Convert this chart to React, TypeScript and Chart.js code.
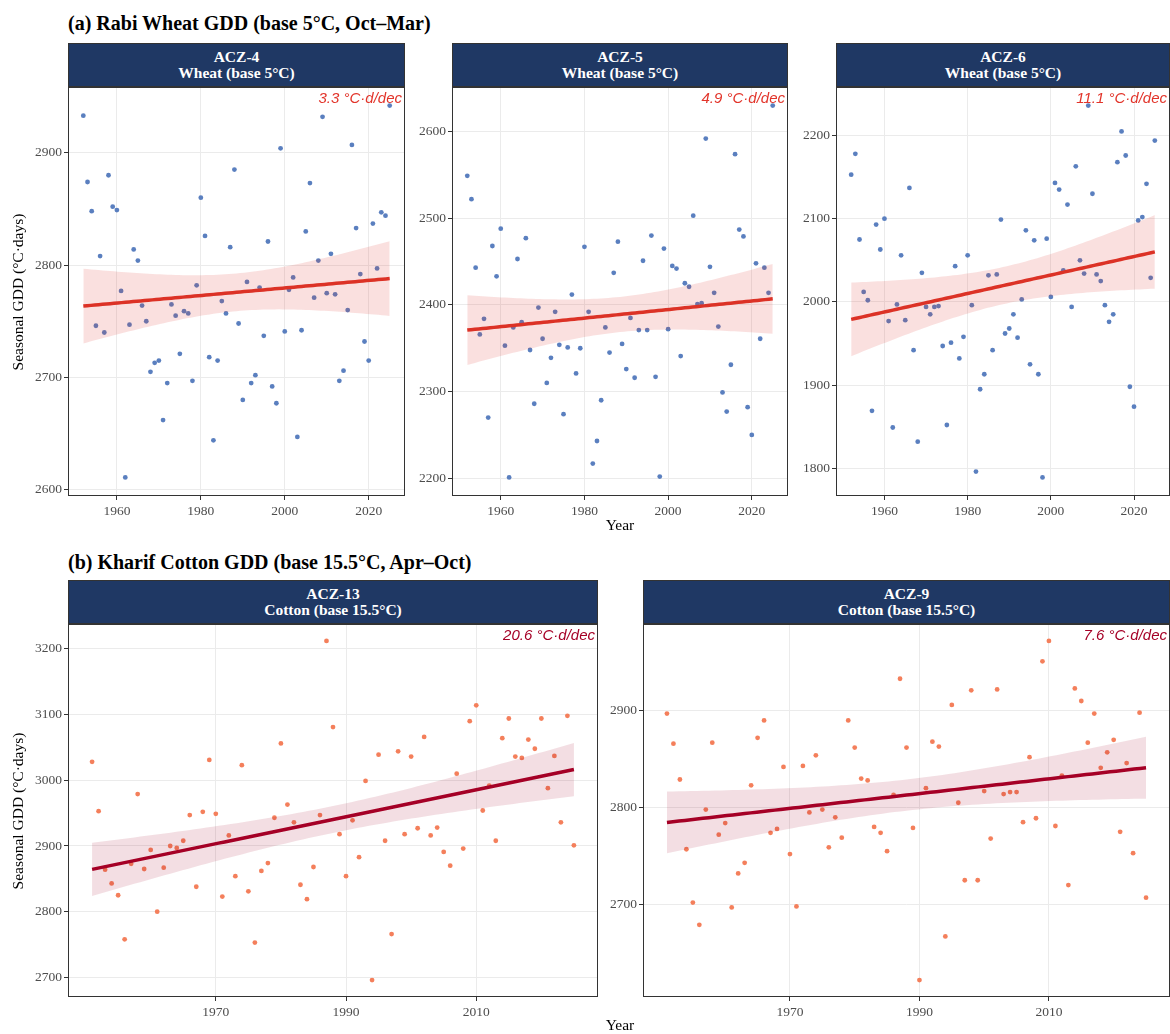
import React, { useEffect, useRef } from "react";
import { Chart, registerables } from "chart.js";
Chart.register(...registerables);

// ---------------- DATA ----------------
const wheatStartYear = 1952;
const cottonStartYear = 1951;

const acz4Wheat = [
  2933, 2874, 2848, 2746, 2808, 2740, 2880, 2852, 2849, 2777,
  2611, 2747, 2814, 2804, 2764, 2750, 2705, 2713, 2715, 2662,
  2695, 2765, 2755, 2721, 2759, 2757, 2697, 2782, 2860, 2826,
  2718, 2644, 2715, 2768, 2757, 2816, 2885, 2748, 2680, 2785,
  2695, 2702, 2780, 2737, 2821, 2692, 2677, 2904, 2741, 2778,
  2789, 2647, 2742, 2830, 2873, 2771, 2804, 2932, 2775, 2810,
  2774, 2697, 2706, 2760, 2907, 2833, 2792, 2732, 2715, 2837,
  2797, 2847, 2844, 2942,
];
const acz5Wheat = [
  2549, 2522, 2443, 2366, 2384, 2270, 2468, 2433, 2488, 2353,
  2201, 2374, 2453, 2380, 2477, 2348, 2286, 2397, 2361, 2310,
  2339, 2392, 2354, 2274, 2351, 2412, 2321, 2350, 2467, 2392,
  2217, 2243, 2290, 2374, 2345, 2437, 2473, 2355, 2326, 2385,
  2316, 2371, 2451, 2371, 2480, 2317, 2202, 2465, 2372, 2445,
  2442, 2341, 2425, 2421, 2503, 2401, 2402, 2592, 2444, 2414,
  2375, 2299, 2277, 2331, 2574, 2487, 2479, 2282, 2250, 2448,
  2361, 2443, 2414, 2630,
];
const acz6Wheat = [
  2153, 2178, 2075, 2012, 2002, 1869, 2093, 2063, 2100, 1977,
  1849, 1997, 2056, 1978, 2137, 1942, 1832, 2035, 1994, 1985,
  1994, 1995, 1947, 1852, 1951, 2043, 1932, 1958, 2056, 1996,
  1796, 1895, 1913, 2032, 1942, 2033, 2099, 1962, 1968, 1985,
  1957, 2003, 2086, 1925, 2074, 1913, 1789, 2076, 2006, 2143,
  2135, 2038, 2117, 1994, 2163, 2050, 2034, 2236, 2130, 2033,
  2025, 1996, 1976, 1985, 2168, 2205, 2176, 1898, 1874, 2098,
  2102, 2142, 2029, 2194,
];
const acz13Cotton = [
  3028, 2953, 2864, 2843, 2825, 2758, 2873, 2979, 2865, 2894,
  2800, 2867, 2900, 2897, 2908, 2947, 2838, 2952, 3031, 2949,
  2823, 2916, 2854, 3023, 2831, 2753, 2862, 2874, 2943, 3056,
  2963, 2936, 2841, 2819, 2868, 2947, 3212, 3081, 2918, 2854,
  2939, 2883, 2999, 2696, 3039, 2908, 2766, 3044, 2918, 3036,
  2927, 3066, 2916, 2928, 2891, 2870, 3010, 2896, 3090, 3114,
  2954, 2992, 2908, 3064, 3094, 3036, 3034, 3062, 3048, 3094,
  2988, 3037, 2936, 3098, 2901,
];
const acz9Cotton = [
  2897, 2866, 2829, 2757, 2702, 2679, 2798, 2867, 2772, 2784,
  2697, 2732, 2743, 2823, 2872, 2890, 2774, 2778, 2842, 2752,
  2698, 2843, 2795, 2854, 2798, 2759, 2790, 2769, 2890, 2862,
  2830, 2828, 2780, 2774, 2755, 2813, 2933, 2862, 2779, 2622,
  2820, 2868, 2863, 2667, 2906, 2805, 2725, 2921, 2725, 2817,
  2768, 2922, 2814, 2816, 2816, 2785, 2852, 2789, 2951, 2972,
  2781, 2833, 2720, 2923, 2910, 2867, 2897, 2841, 2857, 2870,
  2775, 2846, 2753, 2898, 2707,
];

const wheatXTicks = [1960, 1980, 2000, 2020];
const cottonXTicks = [1970, 1990, 2010];
const acz4YTicks = [2600, 2700, 2800, 2900];
const acz5YTicks = [2200, 2300, 2400, 2500, 2600];
const acz6YTicks = [1800, 1900, 2000, 2100, 2200];
const acz13YTicks = [2700, 2800, 2900, 3000, 3100, 3200];
const acz9YTicks = [2700, 2800, 2900];

const slopeLabels = ["3.3 °C·d/dec", "4.9 °C·d/dec", "11.1 °C·d/dec", "20.6 °C·d/dec", "7.6 °C·d/dec"];

// ---------------- STYLE / LAYOUT ----------------
const SERIF = "'Liberation Serif', 'Times New Roman', serif";
const SANS = "'Liberation Sans', Arial, sans-serif";
const NAVY = "#1f3864";
const WHEAT_PT = "#5a7fbf";
const WHEAT_LINE = "#dc3226";
const WHEAT_BAND = "rgba(220,50,38,0.15)";
const WHEAT_LABEL = "#e2342a";
const COT_PT = "#f47f5b";
const COT_LINE = "#a50026";
const COT_BAND = "rgba(165,0,38,0.13)";
const COT_LABEL = "#a50026";

const YW = 60; // y-axis label strip width
const XH = 30; // x-axis label strip height
const STRIP_H = 44;

type Box = { left: number; top: number; width: number; height: number };

type Spec = {
  zone: string;
  crop: string;
  start: number;
  values: number[];
  xTicks: number[];
  yTicks: number[];
  pt: string;
  line: string;
  band: string;
  labelColor: string;
  slope: string;
  box: Box;
};

const TOP_Y = 87;
const TOP_H = 409;
const BOT_Y = 624;
const BOT_H = 373;

const specs: Spec[] = [
  { zone: "ACZ-4", crop: "Wheat (base 5°C)", start: wheatStartYear, values: acz4Wheat, xTicks: wheatXTicks, yTicks: acz4YTicks, pt: WHEAT_PT, line: WHEAT_LINE, band: WHEAT_BAND, labelColor: WHEAT_LABEL, slope: slopeLabels[0], box: { left: 68, top: TOP_Y, width: 337, height: TOP_H } },
  { zone: "ACZ-5", crop: "Wheat (base 5°C)", start: wheatStartYear, values: acz5Wheat, xTicks: wheatXTicks, yTicks: acz5YTicks, pt: WHEAT_PT, line: WHEAT_LINE, band: WHEAT_BAND, labelColor: WHEAT_LABEL, slope: slopeLabels[1], box: { left: 452, top: TOP_Y, width: 336, height: TOP_H } },
  { zone: "ACZ-6", crop: "Wheat (base 5°C)", start: wheatStartYear, values: acz6Wheat, xTicks: wheatXTicks, yTicks: acz6YTicks, pt: WHEAT_PT, line: WHEAT_LINE, band: WHEAT_BAND, labelColor: WHEAT_LABEL, slope: slopeLabels[2], box: { left: 836, top: TOP_Y, width: 334, height: TOP_H } },
  { zone: "ACZ-13", crop: "Cotton (base 15.5°C)", start: cottonStartYear, values: acz13Cotton, xTicks: cottonXTicks, yTicks: acz13YTicks, pt: COT_PT, line: COT_LINE, band: COT_BAND, labelColor: COT_LABEL, slope: slopeLabels[3], box: { left: 68, top: BOT_Y, width: 530, height: BOT_H } },
  { zone: "ACZ-9", crop: "Cotton (base 15.5°C)", start: cottonStartYear, values: acz9Cotton, xTicks: cottonXTicks, yTicks: acz9YTicks, pt: COT_PT, line: COT_LINE, band: COT_BAND, labelColor: COT_LABEL, slope: slopeLabels[4], box: { left: 643, top: BOT_Y, width: 527, height: BOT_H } },
];

// ---------------- STATS ----------------
function fitLm(xs: number[], ys: number[]) {
  const n = xs.length;
  const mx = xs.reduce((a, b) => a + b, 0) / n;
  const my = ys.reduce((a, b) => a + b, 0) / n;
  let sxx = 0, sxy = 0;
  for (let i = 0; i < n; i++) { sxx += (xs[i] - mx) ** 2; sxy += (xs[i] - mx) * (ys[i] - my); }
  const b = sxy / sxx;
  const a = my - b * mx;
  let sse = 0;
  for (let i = 0; i < n; i++) sse += (ys[i] - (a + b * xs[i])) ** 2;
  const s = Math.sqrt(sse / (n - 2));
  return { a, b, s, mx, sxx, n };
}

const T95 = 1.993;

function PanelChart({ spec }: { spec: Spec }) {
  const ref = useRef<HTMLCanvasElement>(null);
  useEffect(() => {
    const years = spec.values.map((_, i) => spec.start + i);
    const pts = spec.values.map((v, i) => ({ x: years[i], y: v }));
    const fit = fitLm(years, spec.values);
    const x0 = years[0], x1 = years[years.length - 1];
    const trend: { x: number; y: number }[] = [];
    const lower: { x: number; y: number }[] = [];
    const upper: { x: number; y: number }[] = [];
    const steps = 80;
    for (let k = 0; k <= steps; k++) {
      const x = x0 + ((x1 - x0) * k) / steps;
      const yh = fit.a + fit.b * x;
      const se = fit.s * Math.sqrt(1 / fit.n + (x - fit.mx) ** 2 / fit.sxx);
      trend.push({ x, y: yh });
      lower.push({ x, y: yh - T95 * se });
      upper.push({ x, y: yh + T95 * se });
    }
    const vmin = Math.min(...spec.values), vmax = Math.max(...spec.values);
    const yr = vmax - vmin;
    const xr = x1 - x0;

    const borderPlugin = {
      id: "panelBorder",
      afterDraw(chart: any) {
        const { left, top, right, bottom } = chart.chartArea;
        const c = chart.ctx;
        c.save();
        c.strokeStyle = "#333333";
        c.lineWidth = 1;
        c.strokeRect(left + 0.5, top + 0.5, right - left - 1, bottom - top - 1);
        c.restore();
      },
    };

    const tickFont = { family: SERIF, size: 13.5 };
    const chart = new Chart(ref.current as HTMLCanvasElement, {
      type: "line",
      data: {
        datasets: [
          { data: trend, borderColor: spec.line, borderWidth: 3.5, pointRadius: 0, fill: false, order: 0 } as any,
          { data: lower, borderColor: "transparent", borderWidth: 0, pointRadius: 0, fill: false, order: 2 } as any,
          { data: upper, borderColor: "transparent", borderWidth: 0, pointRadius: 0, backgroundColor: spec.band, fill: 1, order: 1 } as any,
          { data: pts, showLine: false, pointRadius: 2.4, pointBackgroundColor: spec.pt, pointBorderWidth: 0, pointBorderColor: spec.pt, order: 3 } as any,
        ],
      },
      options: {
        animation: false,
        responsive: false,
        devicePixelRatio: 1,
        events: [],
        layout: { padding: 0, autoPadding: false } as any,
        plugins: { legend: { display: false }, tooltip: { enabled: false } },
        scales: {
          x: {
            type: "linear",
            min: x0 - 0.05 * xr,
            max: x1 + 0.05 * xr,
            afterBuildTicks: (s: any) => { s.ticks = spec.xTicks.map((v) => ({ value: v })); },
            afterFit: (s: any) => { s.height = XH; s.paddingLeft = 0; s.paddingRight = 0; },
            grid: { color: "#ebebeb", lineWidth: 1, tickColor: "#333333", tickLength: 4, drawTicks: true },
            border: { display: false },
            ticks: { font: tickFont, color: "#4d4d4d", padding: 3, maxRotation: 0, autoSkip: false, callback: (v: any) => String(v) },
          },
          y: {
            type: "linear",
            min: vmin - 0.05 * yr,
            max: vmax + 0.05 * yr,
            afterBuildTicks: (s: any) => { s.ticks = spec.yTicks.map((v) => ({ value: v })); },
            afterFit: (s: any) => { s.width = YW; s.paddingTop = 0; s.paddingBottom = 0; },
            grid: { color: "#ebebeb", lineWidth: 1, tickColor: "#333333", tickLength: 4, drawTicks: true },
            border: { display: false },
            ticks: { font: tickFont, color: "#4d4d4d", padding: 2, autoSkip: false, callback: (v: any) => String(v) },
          },
        },
      },
      plugins: [borderPlugin],
    } as any);
    return () => chart.destroy();
  }, [spec]);

  const { left, top, width, height } = spec.box;
  return (
    <canvas
      ref={ref}
      width={width + YW}
      height={height + XH}
      style={{ position: "absolute", left: left - YW, top, width: width + YW, height: height + XH }}
    />
  );
}

function Strip({ spec }: { spec: Spec }) {
  const { left, top, width } = spec.box;
  return (
    <div
      style={{
        position: "absolute", left, top: top - STRIP_H, width, height: STRIP_H, boxSizing: "border-box",
        background: NAVY, border: "1px solid #333", color: "#fff", fontFamily: SERIF, fontWeight: "bold",
        fontSize: 15.5, lineHeight: "16px", textAlign: "center", paddingTop: 5,
      }}
    >
      <div>{spec.zone}</div>
      <div>{spec.crop}</div>
    </div>
  );
}

function SlopeLabel({ spec }: { spec: Spec }) {
  const { left, top, width } = spec.box;
  return (
    <div
      style={{
        position: "absolute", left, top: top + 2, width: width - 3, textAlign: "right",
        fontFamily: SANS, fontStyle: "italic", fontSize: 15, lineHeight: "18px", color: spec.labelColor,
      }}
    >
      {spec.slope}
    </div>
  );
}

const textAbs = (cx: number, cy: number, w: number, h: number): React.CSSProperties => ({
  position: "absolute", left: cx - w / 2, top: cy - h / 2, width: w, height: h, lineHeight: `${h}px`, textAlign: "center",
});

export default function App() {
  return (
    <div style={{ position: "absolute", left: 0, top: 0, width: 1170, height: 1034, background: "#fff", overflow: "hidden" }}>
      <div style={{ position: "absolute", left: 68, top: 11, fontFamily: SERIF, fontWeight: "bold", fontSize: 20, lineHeight: "24px", whiteSpace: "nowrap", color: "#000" }}>
        (a) Rabi Wheat GDD (base 5°C, Oct–Mar)
      </div>
      <div style={{ position: "absolute", left: 68, top: 550, fontFamily: SERIF, fontWeight: "bold", fontSize: 20, lineHeight: "24px", whiteSpace: "nowrap", color: "#000" }}>
        (b) Kharif Cotton GDD (base 15.5°C, Apr–Oct)
      </div>
      {specs.map((s) => <PanelChart key={s.zone} spec={s} />)}
      {specs.map((s) => <Strip key={s.zone + "s"} spec={s} />)}
      {specs.map((s) => <SlopeLabel key={s.zone + "l"} spec={s} />)}
      <div style={{ ...textAbs(18, TOP_Y + TOP_H / 2, 300, 20), transform: "rotate(-90deg)", fontFamily: SERIF, fontSize: 15.5, color: "#000" }}>
        Seasonal GDD (°C·days)
      </div>
      <div style={{ ...textAbs(18, BOT_Y + BOT_H / 2, 300, 20), transform: "rotate(-90deg)", fontFamily: SERIF, fontSize: 15.5, color: "#000" }}>
        Seasonal GDD (°C·days)
      </div>
      <div style={{ ...textAbs(620, 525, 100, 20), fontFamily: SERIF, fontSize: 15.5, color: "#000" }}>Year</div>
      <div style={{ ...textAbs(620, 1025, 100, 20), fontFamily: SERIF, fontSize: 15.5, color: "#000" }}>Year</div>
    </div>
  );
}
